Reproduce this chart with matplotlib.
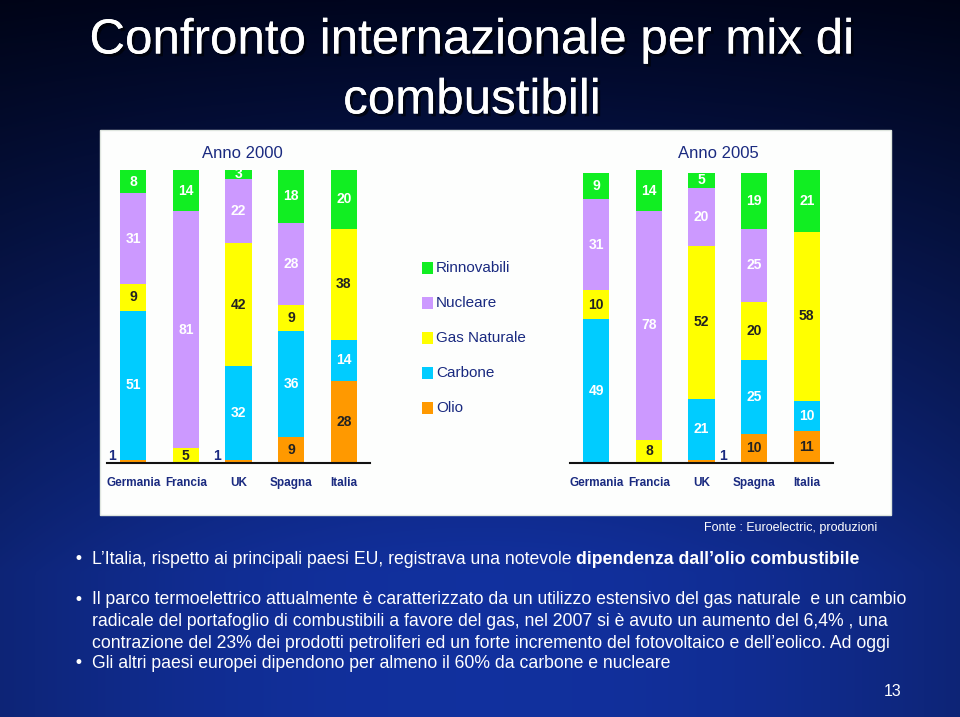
import numpy as np
import matplotlib.pyplot as plt
from matplotlib.patches import Rectangle
import matplotlib.patheffects as pe

# data
paesi = ['Germania', 'Francia', 'UK', 'Spagna', 'Italia']
fonti = ['Olio', 'Carbone', 'Gas Naturale', 'Nucleare', 'Rinnovabili']
colori = ['#ff9900', '#00ccff', '#ffff00', '#cc99ff', '#11ee22']
col_testo = ['#222222', 'white', '#222222', 'white', 'white']

olio_2000 = [1, 0, 1, 9, 28]
carbone_2000 = [51, 0, 32, 36, 14]
gas_2000 = [9, 5, 42, 9, 38]
nucleare_2000 = [31, 81, 22, 28, 0]
rinnovabili_2000 = [8, 14, 3, 18, 20]

olio_2005 = [0, 0, 1, 10, 11]
carbone_2005 = [49, 0, 21, 25, 10]
gas_2005 = [10, 8, 52, 20, 58]
nucleare_2005 = [31, 78, 20, 25, 0]
rinnovabili_2005 = [9, 14, 5, 19, 21]

W, H = 960, 717
NAVY = '#1a2a80'
FONT = 'Liberation Sans'

fig = plt.figure(figsize=(W / 100, H / 100), dpi=100)


def fx(px):
    return px / W


def fy(py):
    return 1 - py / H


# background gradient
bg = fig.add_axes([0, 0, 1, 1])
yy = np.linspace(0, 1, 300)[:, None]
xx = np.linspace(-1, 1, 400)[None, :]
top = np.array([0.0, 0.02, 0.12])
bot = np.array([0.07, 0.19, 0.62])
t = np.clip(yy * 1.25, 0, 1)
img = top + (bot - top) * t[..., None]
img = img * (1 - 0.25 * xx[..., None] ** 2)
bg.imshow(img, aspect='auto', extent=[0, 1, 0, 1], origin='upper')
bg.set_xlim(0, 1)
bg.set_ylim(0, 1)
bg.axis('off')

# title
shadow = [pe.withSimplePatchShadow(offset=(2, -2), shadow_rgbFace='black', alpha=0.6), pe.Normal()]
fig.text(fx(472), fy(41), 'Confronto internazionale per mix di', color='white',
         fontsize=35.5, family=FONT, ha='center', va='center', path_effects=shadow)
fig.text(fx(472), fy(101), 'combustibili', color='white',
         fontsize=35.5, family=FONT, ha='center', va='center', path_effects=shadow)

# white panel
fig.patches.append(Rectangle((fx(100), fy(515)), fx(791), 385 / H, transform=fig.transFigure,
                             facecolor='#fdfefd', edgecolor='#dfe6df', lw=1, zorder=1))


def grafico(left_px, serie, titolo, titolo_x, lato_uno):
    ax = fig.add_axes([fx(left_px), fy(463), fx(263), 293 / H])
    ax.set_zorder(2)
    ax.patch.set_alpha(0)
    x = np.arange(len(paesi))
    base = np.zeros(len(paesi))
    for vals, c, tc in zip(serie, colori, col_testo):
        vals = np.array(vals, dtype=float)
        ax.bar(x, vals, 0.5, bottom=base, color=c, linewidth=0)
        for i, v in enumerate(vals):
            if v <= 0:
                continue
            if v <= 1:
                ax.text(x[i] + lato_uno * 0.4, base[i] + 2.5, str(int(v)), ha='center', va='center',
                        color=NAVY, fontsize=10, fontweight='bold', family=FONT, clip_on=False)
            else:
                ax.text(x[i], base[i] + v / 2, str(int(v)), ha='center', va='center',
                        color=tc, fontsize=10, fontweight='bold', family=FONT, clip_on=False)
        base += vals
    ax.set_xlim(-0.5, 4.5)
    ax.set_ylim(0, 100)
    for s in ['top', 'right', 'left']:
        ax.spines[s].set_visible(False)
    ax.spines['bottom'].set_linewidth(1.5)
    ax.spines['bottom'].set_color('#111111')
    ax.set_yticks([])
    ax.set_xticks(x)
    ax.set_xticklabels(paesi, family=FONT, fontweight='bold', fontsize=8.5, color=NAVY)
    ax.tick_params(axis='x', length=0, pad=10)
    fig.text(fx(titolo_x), fy(153), titolo, ha='center', va='center', color=NAVY,
             fontsize=12, family=FONT, zorder=3)


grafico(107, [olio_2000, carbone_2000, gas_2000, nucleare_2000, rinnovabili_2000],
        'Anno 2000', 242, -1)
grafico(570, [olio_2005, carbone_2005, gas_2005, nucleare_2005, rinnovabili_2005],
        'Anno 2005', 718, 1)

# legend
for k, (nome, c) in enumerate(zip(fonti[::-1], colori[::-1])):
    ypx = 268 + 35 * k
    fig.patches.append(Rectangle((fx(422), fy(ypx + 6)), fx(11), 12 / H, transform=fig.transFigure,
                                 facecolor=c, edgecolor='none', zorder=3))
    fig.text(fx(436), fy(ypx), nome, ha='left', va='center', color=NAVY,
             fontsize=11, family=FONT, zorder=3)

# source
fig.text(fx(877), fy(528), 'Fonte : Euroelectric, produzioni', ha='right', va='center',
         color='white', fontsize=9, family=FONT)

# bullets
FS = 12.7
fig.canvas.draw()
r = fig.canvas.get_renderer()
t1 = fig.text(fx(92), fy(559), 'L\u2019Italia, rispetto ai principali paesi EU, registrava una notevole ',
              ha='left', va='center', color='white', fontsize=FS, family=FONT)
bb = t1.get_window_extent(renderer=r)
fig.text(bb.x1 / W, fy(559), 'dipendenza dall\u2019olio combustibile', ha='left', va='center',
         color='white', fontsize=FS, fontweight='bold', family=FONT)

righe = [
    (600, 'Il parco termoelettrico attualmente è caratterizzato da un utilizzo estensivo del gas naturale  e un cambio'),
    (622, 'radicale del portafoglio di combustibili a favore del gas, nel 2007 si è avuto un aumento del 6,4% , una'),
    (643, 'contrazione del 23% dei prodotti petroliferi ed un forte incremento del fotovoltaico e dell\u2019eolico. Ad oggi'),
    (663, 'Gli altri paesi europei dipendono per almeno il 60% da carbone e nucleare'),
]
for ypx, testo in righe:
    fig.text(fx(92), fy(ypx), testo, ha='left', va='center', color='white', fontsize=FS,
             family=FONT)

for ypx in [559, 600, 663]:
    fig.text(fx(78), fy(ypx), '\u2022', ha='center', va='center', color='white', fontsize=12)

fig.text(fx(893), fy(692), '13', ha='center', va='center', color='white', fontsize=11.5,
         family=FONT)

fig.savefig('out.png', dpi=100)
